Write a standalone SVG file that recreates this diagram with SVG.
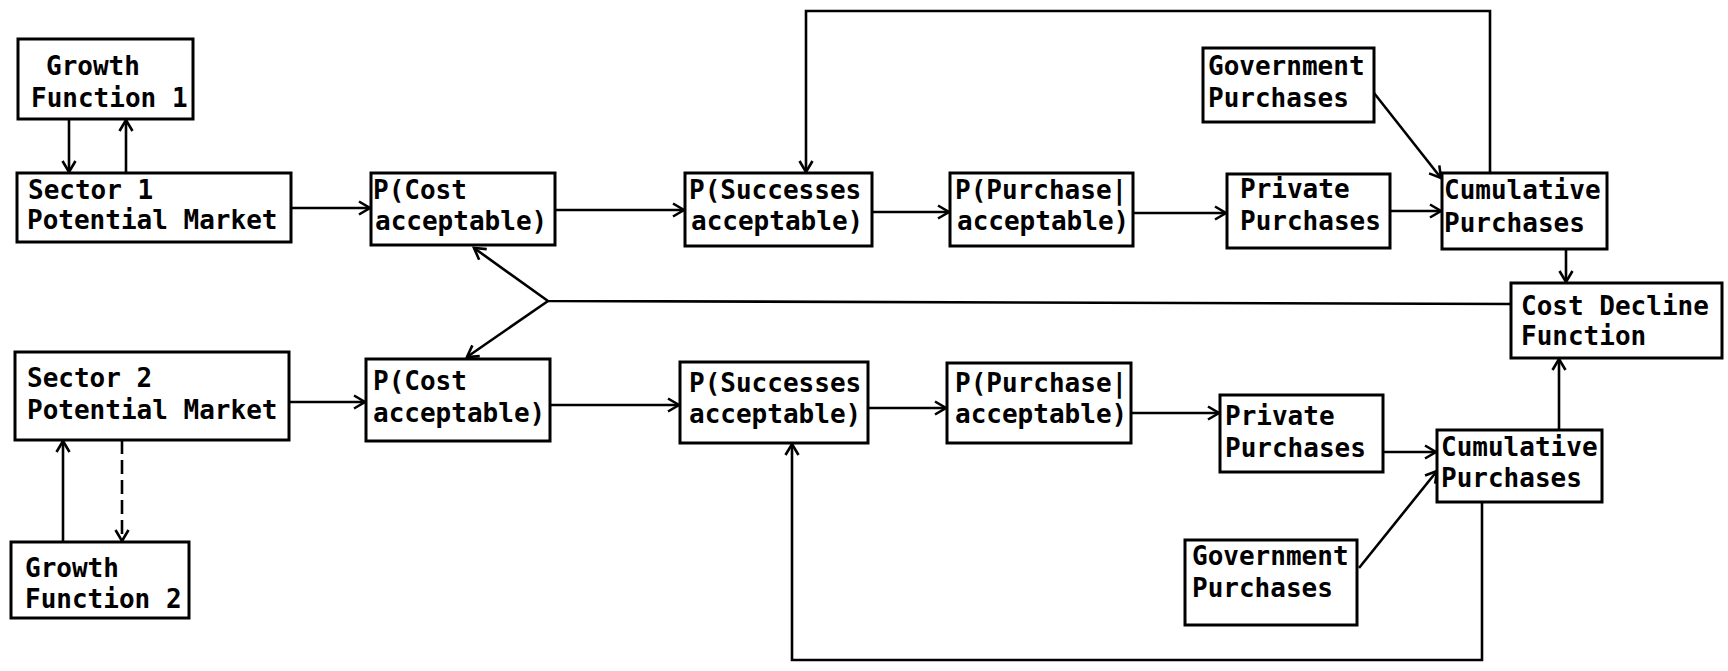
<svg xmlns="http://www.w3.org/2000/svg" width="1728" height="671" viewBox="0 0 1728 671">
<defs>
<style>
.box{fill:#fff;stroke:#000;stroke-width:3}
.t{font-family:"DejaVu Sans Mono","Liberation Mono",monospace;font-weight:bold;font-size:26px;fill:#000}
.c{fill:none;stroke:#000;stroke-width:2.6}
.d{stroke-dasharray:14 6}
</style>
<marker id="ah" markerUnits="userSpaceOnUse" markerWidth="16" markerHeight="16" refX="13" refY="8" orient="auto">
<path d="M2,1.5 L13,8 L2,14.5" fill="none" stroke="#000" stroke-width="2.6"/>
</marker>
</defs>
<rect width="1728" height="671" fill="#fff"/>
<g id="connectors">
<line class="c" x1="69" y1="119" x2="69" y2="172" marker-end="url(#ah)"/>
<line class="c" x1="126" y1="173" x2="126" y2="120" marker-end="url(#ah)"/>
<line class="c" x1="291" y1="208" x2="370" y2="208" marker-end="url(#ah)"/>
<line class="c" x1="555" y1="210" x2="684" y2="210" marker-end="url(#ah)"/>
<line class="c" x1="872" y1="212" x2="949" y2="212" marker-end="url(#ah)"/>
<line class="c" x1="1133" y1="213" x2="1226" y2="213" marker-end="url(#ah)"/>
<line class="c" x1="1390" y1="211" x2="1441" y2="211" marker-end="url(#ah)"/>
<line class="c" x1="1374" y1="93" x2="1441" y2="178" marker-end="url(#ah)"/>
<polyline class="c" points="1490,173 1490,11 806,11 806,172" marker-end="url(#ah)"/>
<line class="c" x1="1566" y1="249" x2="1566" y2="282" marker-end="url(#ah)"/>
<polyline class="c" points="1511,304 548,301 474,248" marker-end="url(#ah)"/>
<line class="c" x1="548" y1="301" x2="467" y2="357" marker-end="url(#ah)"/>
<line class="c" x1="289" y1="402" x2="365" y2="402" marker-end="url(#ah)"/>
<line class="c" x1="63" y1="542" x2="63" y2="441" marker-end="url(#ah)"/>
<line class="c d" x1="122" y1="440" x2="122" y2="541" marker-end="url(#ah)"/>
<line class="c" x1="550" y1="405" x2="679" y2="405" marker-end="url(#ah)"/>
<line class="c" x1="868" y1="408" x2="946" y2="408" marker-end="url(#ah)"/>
<line class="c" x1="1131" y1="413" x2="1219" y2="413" marker-end="url(#ah)"/>
<line class="c" x1="1383" y1="452" x2="1436" y2="452" marker-end="url(#ah)"/>
<line class="c" x1="1359" y1="568" x2="1437" y2="471" marker-end="url(#ah)"/>
<line class="c" x1="1559" y1="430" x2="1559" y2="359" marker-end="url(#ah)"/>
<polyline class="c" points="1482,502 1482,660 792,660 792,444" marker-end="url(#ah)"/>
</g>
<g id="growth1"><rect class="box" x="18" y="39" width="175" height="80"/><text class="t" x="46" y="75">Growth</text><text class="t" x="31" y="107">Function 1</text></g>
<g id="sector1"><rect class="box" x="17" y="173" width="274" height="69"/><text class="t" x="28" y="199">Sector 1</text><text class="t" x="27" y="229">Potential Market</text></g>
<g id="pcost1"><rect class="box" x="371" y="173" width="184" height="72"/><text class="t" x="373" y="199">P(Cost</text><text class="t" x="375" y="230">acceptable)</text></g>
<g id="psucc1"><rect class="box" x="685" y="173" width="187" height="73"/><text class="t" x="689" y="199">P(Successes</text><text class="t" x="691" y="230">acceptable)</text></g>
<g id="ppurch1"><rect class="box" x="950" y="173" width="183" height="73"/><text class="t" x="955" y="199">P(Purchase|</text><text class="t" x="957" y="230">acceptable)</text></g>
<g id="private1"><rect class="box" x="1227" y="174" width="163" height="74"/><text class="t" x="1240" y="198">Private</text><text class="t" x="1240" y="230">Purchases</text></g>
<g id="cum1"><rect class="box" x="1442" y="173" width="165" height="76"/><text class="t" x="1444" y="199">Cumulative</text><text class="t" x="1444" y="232">Purchases</text></g>
<g id="gov1"><rect class="box" x="1203" y="48" width="171" height="74"/><text class="t" x="1208" y="75">Government</text><text class="t" x="1208" y="107">Purchases</text></g>
<g id="costdecline"><rect class="box" x="1511" y="283" width="211" height="75"/><text class="t" x="1521" y="315">Cost Decline</text><text class="t" x="1521" y="345">Function</text></g>
<g id="sector2"><rect class="box" x="15" y="352" width="274" height="88"/><text class="t" x="27" y="387">Sector 2</text><text class="t" x="27" y="419">Potential Market</text></g>
<g id="pcost2"><rect class="box" x="366" y="359" width="184" height="82"/><text class="t" x="373" y="390">P(Cost</text><text class="t" x="373" y="422">acceptable)</text></g>
<g id="growth2"><rect class="box" x="11" y="542" width="178" height="76"/><text class="t" x="25" y="577">Growth</text><text class="t" x="25" y="608">Function 2</text></g>
<g id="psucc2"><rect class="box" x="680" y="362" width="188" height="81"/><text class="t" x="689" y="392">P(Successes</text><text class="t" x="689" y="423">acceptable)</text></g>
<g id="ppurch2"><rect class="box" x="947" y="363" width="184" height="80"/><text class="t" x="955" y="392">P(Purchase|</text><text class="t" x="955" y="423">acceptable)</text></g>
<g id="private2"><rect class="box" x="1220" y="395" width="163" height="77"/><text class="t" x="1225" y="425">Private</text><text class="t" x="1225" y="457">Purchases</text></g>
<g id="cum2"><rect class="box" x="1437" y="430" width="165" height="72"/><text class="t" x="1441" y="456">Cumulative</text><text class="t" x="1441" y="487">Purchases</text></g>
<g id="gov2"><rect class="box" x="1185" y="540" width="172" height="85"/><text class="t" x="1192" y="565">Government</text><text class="t" x="1192" y="597">Purchases</text></g>
</svg>
